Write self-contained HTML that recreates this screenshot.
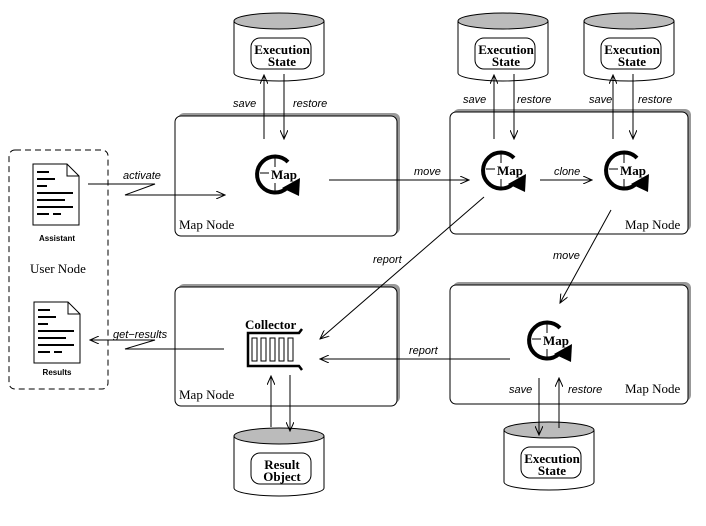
<!DOCTYPE html>
<html><head><style>
html,body{margin:0;padding:0;background:#fff;}
svg{display:block}
.it{font-family:"Liberation Sans",sans-serif;font-style:italic;font-size:11px;}
.sf{font-family:"Liberation Serif",serif;font-size:13px;}
.bd{font-family:"Liberation Serif",serif;font-weight:bold;font-size:13px;}
</style></head><body>
<svg width="706" height="526" viewBox="0 0 706 526" xmlns="http://www.w3.org/2000/svg">
<defs>
<marker id="ar" markerWidth="10" markerHeight="8" refX="9" refY="4" orient="auto" markerUnits="userSpaceOnUse">
<path d="M0,0 L9,4 L0,8" fill="none" stroke="#000" stroke-width="1"/>
</marker>
<g id="map">
<path d="M13,-13 A18 18 0 1 0 12,13" fill="none" stroke="#000" stroke-width="4"/>
<polygon points="7,13 25,3 24,21" fill="#000"/>
<line x1="0" y1="-18" x2="0" y2="-8" stroke="#000"/>
<line x1="0" y1="8" x2="0" y2="18" stroke="#000"/>
<line x1="-15" y1="-2" x2="-6" y2="-2" stroke="#000"/>
<text x="-4" y="4" class="bd">Map</text>
</g>
<g id="cyl">
<path d="M0,8 L0,60 A45 8 0 0 0 90,60 L90,8" fill="#fff" stroke="#000"/>
<ellipse cx="45" cy="8" rx="45" ry="8" fill="#bbb" stroke="#000"/>
<rect x="17" y="25" width="60" height="31" rx="9" fill="#fff" stroke="#000"/>
</g>
<g id="doc">
<path d="M0,0 L34,0 L46,12 L46,61 L0,61 Z" fill="#fff" stroke="#000"/>
<path d="M34,0 L34,12 L46,12" fill="none" stroke="#000"/>
<g stroke="#000" stroke-width="2">
<line x1="4" y1="8" x2="16" y2="8"/><line x1="4" y1="15" x2="22" y2="15"/><line x1="4" y1="22" x2="14" y2="22"/>
<line x1="4" y1="29" x2="40" y2="29"/><line x1="4" y1="36" x2="32" y2="36"/><line x1="4" y1="43" x2="40" y2="43"/>
<line x1="4" y1="50" x2="16" y2="50"/><line x1="20" y1="50" x2="28" y2="50"/>
</g>
</g>
</defs>

<g fill="#fff" stroke="#000">
<rect x="178" y="113" width="222" height="121" rx="6" fill="#999" stroke="none"/>
<rect x="175" y="116" width="222" height="120" rx="6"/>
<rect x="453" y="109" width="238" height="122" rx="6" fill="#999" stroke="none"/>
<rect x="450" y="112" width="238" height="122" rx="6"/>
<rect x="178" y="284" width="222" height="119" rx="6" fill="#999" stroke="none"/>
<rect x="175" y="287" width="222" height="119" rx="6"/>
<rect x="453" y="282" width="238" height="119" rx="6" fill="#999" stroke="none"/>
<rect x="450" y="285" width="238" height="119" rx="6"/>
</g>
<text x="179" y="229" class="sf">Map Node</text>
<text x="625" y="229" class="sf">Map Node</text>
<text x="179" y="399" class="sf">Map Node</text>
<text x="625" y="393" class="sf">Map Node</text>

<use href="#cyl" x="234" y="13"/>
<text x="282" y="54" class="bd" text-anchor="middle">Execution</text>
<text x="282" y="66" class="bd" text-anchor="middle">State</text>
<use href="#cyl" x="458" y="13"/>
<text x="506" y="54" class="bd" text-anchor="middle">Execution</text>
<text x="506" y="66" class="bd" text-anchor="middle">State</text>
<use href="#cyl" x="584" y="13"/>
<text x="632" y="54" class="bd" text-anchor="middle">Execution</text>
<text x="632" y="66" class="bd" text-anchor="middle">State</text>
<use href="#cyl" x="504" y="422"/>
<text x="552" y="463" class="bd" text-anchor="middle">Execution</text>
<text x="552" y="475" class="bd" text-anchor="middle">State</text>
<use href="#cyl" x="234" y="428"/>
<text x="282" y="469" class="bd" text-anchor="middle">Result</text>
<text x="282" y="481" class="bd" text-anchor="middle">Object</text>

<use href="#map" x="275" y="175"/>
<use href="#map" x="501" y="171"/>
<use href="#map" x="624" y="171"/>
<use href="#map" x="547" y="341"/>

<g stroke="#000" fill="none" marker-end="url(#ar)">
<line x1="264" y1="139" x2="264" y2="75"/>
<line x1="284" y1="74" x2="284" y2="139"/>
<line x1="494" y1="139" x2="494" y2="75"/>
<line x1="514" y1="74" x2="514" y2="139"/>
<line x1="613" y1="139" x2="613" y2="75"/>
<line x1="633" y1="74" x2="633" y2="139"/>
<line x1="539" y1="378" x2="539" y2="435"/>
<line x1="559" y1="428" x2="559" y2="378"/>
<line x1="271" y1="427" x2="271" y2="376"/>
<line x1="290" y1="375" x2="290" y2="431"/>
<line x1="329" y1="180" x2="469" y2="180"/>
<line x1="540" y1="180" x2="592" y2="180"/>
<line x1="484" y1="197" x2="320" y2="339"/>
<line x1="611" y1="210" x2="560" y2="303"/>
<line x1="510" y1="359" x2="320" y2="359"/>
<polyline points="88,184 155,184 125,195 225,195"/>
<polyline points="224,349 125,349 155,340 90,340"/>
</g>
<text x="233" y="107" class="it">save</text>
<text x="293" y="107" class="it">restore</text>
<text x="463" y="103" class="it">save</text>
<text x="517" y="103" class="it">restore</text>
<text x="589" y="103" class="it">save</text>
<text x="638" y="103" class="it">restore</text>
<text x="509" y="393" class="it">save</text>
<text x="568" y="393" class="it">restore</text>
<text x="414" y="175" class="it">move</text>
<text x="554" y="175" class="it">clone</text>
<text x="373" y="263" class="it">report</text>
<text x="553" y="259" class="it">move</text>
<text x="409" y="354" class="it">report</text>
<text x="123" y="179" class="it">activate</text>
<text x="113" y="338" class="it">get−results</text>

<text x="245" y="329" class="bd">Collector</text>
<path d="M302,329 L299,333 L248,333 L248,366 L299,366 L302,370" fill="none" stroke="#000" stroke-width="2.5"/>
<g fill="#fff" stroke="#000">
<rect x="252" y="338" width="5" height="23"/><rect x="261" y="338" width="5" height="23"/><rect x="270" y="338" width="5" height="23"/><rect x="279" y="338" width="5" height="23"/><rect x="288" y="338" width="5" height="23"/>
</g>

<rect x="9" y="150" width="99" height="239" rx="6" fill="none" stroke="#000" stroke-dasharray="6,4"/>
<use href="#doc" x="33" y="164"/>
<text x="57" y="241" font-family="Liberation Sans,sans-serif" font-weight="bold" font-size="8" text-anchor="middle">Assistant</text>
<text x="30" y="273" class="sf">User Node</text>
<use href="#doc" x="34" y="302"/>
<text x="57" y="375" font-family="Liberation Sans,sans-serif" font-weight="bold" font-size="8" text-anchor="middle">Results</text>
</svg>
</body></html>
